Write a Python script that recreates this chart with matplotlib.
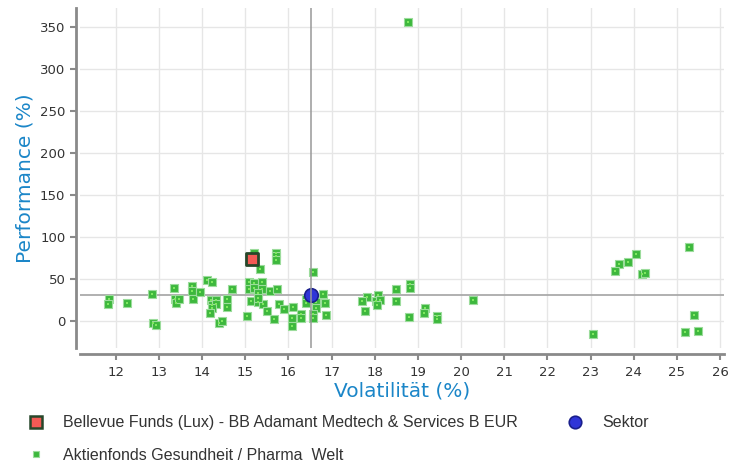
import matplotlib
matplotlib.use("Agg")
import matplotlib.pyplot as plt
from matplotlib.lines import Line2D

plt.rcParams['font.family'] = ['DejaVu Sans']

# peer group funds: volatility (%), performance (%)
peer_vol = [11.84, 11.83, 12.26, 12.84, 12.85, 12.93, 13.34, 13.38, 13.40, 13.47,
            13.77, 13.76, 13.79, 13.94, 14.12, 14.23, 14.20, 14.33, 14.23, 14.33,
            14.22, 14.19, 14.38, 14.47, 14.58, 14.57, 14.68, 15.05, 15.19, 15.70,
            15.71, 15.70, 15.35, 16.57, 15.09, 15.19, 15.09, 15.20, 15.39, 15.39,
            15.58, 15.73, 15.29, 15.13, 15.29, 15.41, 15.50, 15.77, 15.89, 16.11,
            15.66, 16.30, 16.30, 16.08, 16.08, 16.40, 16.40, 16.57, 16.64, 16.64,
            16.57, 16.57, 16.81, 16.84, 16.86, 17.81, 17.70, 17.78, 18.08, 18.02,
            18.13, 18.05, 18.50, 18.50, 18.82, 18.82, 18.79, 19.17, 19.15, 19.45,
            19.44, 20.27, 18.77, 25.29, 24.05, 23.87, 23.66, 23.56, 24.19, 24.25,
            25.40, 25.19, 25.48, 23.05, 15.30]
peer_perf = [26.2, 20.6, 21.4, 32.9, -1.6, -4.8, 40.0, 26.9, 21.8, 26.9,
             42.0, 36.4, 26.5, 34.5, 48.8, 47.1, 25.0, 25.4, 19.4, 20.2,
             15.5, 9.9, -2.0, 0.0, 26.2, 16.7, 38.0, 6.0, 81.0, 81.7,
             77.7, 73.0, 62.6, 58.3, 47.1, 46.0, 38.5, 39.3, 46.4, 38.5,
             36.4, 38.5, 33.3, 24.2, 23.0, 20.2, 12.6, 20.2, 15.0, 17.0,
             2.4, 8.7, 3.6, 4.3, -5.6, 26.5, 21.4, 27.4, 23.3, 15.5,
             8.7, 3.6, 32.5, 22.1, 7.5, 29.3, 24.5, 12.6, 31.7, 24.5,
             25.4, 19.4, 38.8, 24.5, 44.4, 39.3, 5.1, 15.8, 9.5, 6.7,
             3.1, 25.7, 356.3, 88.5, 80.1, 70.6, 68.6, 59.5, 56.7, 57.1,
             7.9, -12.4, -11.9, -15.5, 28.0]

fund_vol = [15.16]
fund_perf = [74.2]
sektor_vol = [16.53]
sektor_perf = [31.3]

fund_name = "Bellevue Funds (Lux) - BB Adamant Medtech & Services B EUR"
peer_name = "Aktienfonds Gesundheit / Pharma  Welt"

fig = plt.figure(figsize=(7.3, 4.65), dpi=100)
ax = fig.add_axes([80 / 730, 117 / 465, 644 / 730, 340 / 465])

ax.set_xlim(11.17, 26.09)
ax.set_ylim(-31.8, 373)
ax.set_xticks(range(12, 27))
ax.set_yticks(range(0, 351, 50))
ax.grid(True, color='#e6e6e6', linewidth=1)
ax.set_axisbelow(True)

for side in ['top', 'right']:
    ax.spines[side].set_visible(False)
ax.spines['left'].set_position(('outward', 3))
ax.spines['bottom'].set_position(('outward', 4))
for side in ['left', 'bottom']:
    ax.spines[side].set_color('#8a8a8a')
    ax.spines[side].set_linewidth(2)
ax.tick_params(colors='#8a8a8a', width=1.5, length=4, labelcolor='#333333',
               labelsize=9.5)
ax.tick_params(axis='x', pad=5)

ax.axvline(sektor_vol[0], color='#999999', lw=1.1, zorder=4)
ax.axhline(sektor_perf[0], color='#aaaaaa', lw=1.3, zorder=2)

# peer squares with lighter centre dot
ax.scatter(peer_vol, peer_perf, marker='s', s=32, c='#3db83d',
           edgecolors='#9cdc9c', linewidths=0.8, zorder=3)
ax.scatter(peer_vol, peer_perf, marker='s', s=3, c='#7fe860',
           linewidths=0, zorder=3)
ax.scatter(fund_vol, fund_perf, marker='s', s=85, c='#f35a55',
           edgecolors='#27472a', linewidths=2, zorder=5)
ax.scatter(sektor_vol, sektor_perf, marker='o', s=95, c='#2f35d8',
           edgecolors='#1a1f8c', linewidths=1.2, zorder=3)

ax.set_xlabel('Volatilität (%)', color='#1b86c8', fontsize=14.5, labelpad=2)
ax.set_ylabel('Performance (%)', color='#1b86c8', fontsize=14.5, labelpad=4)

handles = [
    Line2D([], [], ls='none', marker='s', ms=8, mfc='#f35a55', mec='#27472a', mew=1.8),
    Line2D([], [], ls='none', marker='s', ms=5, mfc='#3db83d', mec='#9cdc9c', mew=0.8),
    Line2D([], [], ls='none', marker='o', ms=9, mfc='#2f35d8', mec='#1a1f8c', mew=1.2),
]
fig.legend(handles, [fund_name, peer_name, 'Sektor'], ncol=2, loc='upper left',
           bbox_to_anchor=(12 / 730, 1 - 401 / 465), frameon=False,
           prop={'family': 'Liberation Sans', 'size': 11.5},
           labelcolor='#333333', handletextpad=1.1,
           columnspacing=3.0, labelspacing=1.1, handlelength=1.2)

fig.savefig('out.png', dpi=100)
